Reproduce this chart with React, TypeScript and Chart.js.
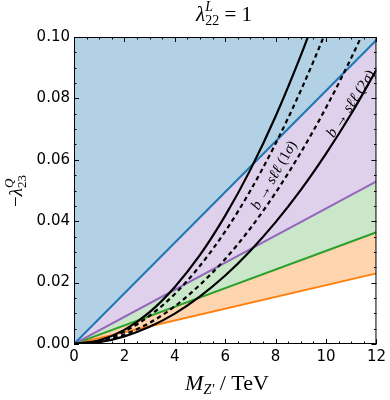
import React, { useEffect, useRef } from "react";
import { Chart, registerables } from "chart.js";

Chart.register(...registerables);

// ---- data ----
const massGrid = [0, 1, 2, 3, 4, 5, 6, 7, 8, 9, 10, 11, 12];
const lineMass = [0, 12];
const limitBlue = [0, 0.099];
const limitPurple = [0, 0.053];
const limitGreen = [0, 0.0364];
const limitOrange = [0, 0.023];
const bsll2SigmaUpper = [0, 0.0012, 0.0046, 0.0104, 0.0186, 0.029, 0.0418, 0.0568, 0.0742, 0.094, 0.116];
const bsll1SigmaUpper = [0, 0.001, 0.0041, 0.0092, 0.0163, 0.0255, 0.0367, 0.05, 0.0653, 0.0826, 0.102, 0.1234];
const bsll1SigmaLower = [0, 0.0008, 0.0031, 0.0069, 0.0123, 0.0193, 0.0277, 0.0377, 0.0493, 0.0624, 0.077, 0.0932, 0.1109];
const bsll2SigmaLower = [0, 0.0006, 0.0025, 0.0056, 0.0099, 0.0155, 0.0223, 0.0304, 0.0397, 0.0502, 0.062, 0.075, 0.0893];
const xTickValues = [0, 2, 4, 6, 8, 10, 12];
const yTickValues = [0, 0.02, 0.04, 0.06, 0.08, 0.1];

// annotation anchors (data coordinates)
const label1SigmaAnchor = { x: 7.93, y: 0.055, angle: -60 };
const label2SigmaAnchor = { x: 10.98, y: 0.0783, angle: -57 };

const SERIF = '"Liberation Serif", "DejaVu Serif", serif';
const SANS = '"DejaVu Sans", sans-serif';

const toPoints = (xs: number[], ys: number[]) => ys.map((y, i) => ({ x: xs[i], y }));

type Seg = { t: string; f: string; dy?: number; noAdv?: boolean };

function drawSegs(
  ctx: CanvasRenderingContext2D,
  segs: Seg[],
  cx: number,
  cy: number,
  angleDeg: number,
  baseShift = 0
) {
  ctx.save();
  ctx.translate(cx, cy);
  ctx.rotate((angleDeg * Math.PI) / 180);
  ctx.textAlign = "left";
  ctx.textBaseline = "alphabetic";
  ctx.fillStyle = "#000";
  let total = 0;
  for (const s of segs) {
    ctx.font = s.f;
    if (!s.noAdv) total += ctx.measureText(s.t).width;
  }
  let x = -total / 2;
  for (const s of segs) {
    ctx.font = s.f;
    ctx.fillText(s.t, x, (s.dy || 0) + baseShift);
    if (!s.noAdv) x += ctx.measureText(s.t).width;
  }
  ctx.restore();
}

const decorPlugin = {
  id: "decor",
  afterDatasetsDraw(chart: any) {
    const ctx: CanvasRenderingContext2D = chart.ctx;
    const xs = chart.scales.x;
    const ys = chart.scales.y;
    const lbl = (a: { x: number; y: number; angle: number }, sig: string) => {
      const px = xs.getPixelForValue(a.x);
      const py = ys.getPixelForValue(a.y);
      const it = `italic 15px ${SERIF}`;
      const rg = `15px ${SERIF}`;
      drawSegs(
        ctx,
        [
          { t: "b", f: it },
          { t: " \u2192 ", f: rg },
          { t: "s\u2113\u2113", f: it },
          { t: " (" + sig, f: rg },
          { t: "\u03c3", f: it },
          { t: ")", f: rg },
        ],
        px,
        py,
        a.angle,
        4.5
      );
    };
    lbl(label1SigmaAnchor, "1");
    lbl(label2SigmaAnchor, "2");
  },
  afterDraw(chart: any) {
    const ctx: CanvasRenderingContext2D = chart.ctx;
    const { left, right, top, bottom } = chart.chartArea;
    const xs = chart.scales.x;
    const ys = chart.scales.y;
    ctx.save();
    ctx.strokeStyle = "#000";
    ctx.lineWidth = 1;
    ctx.beginPath();
    for (let v = 0; v <= 12.0001; v += 0.5) {
      const px = Math.round(xs.getPixelForValue(v)) + 0.5;
      const len = Math.abs(v / 2 - Math.round(v / 2)) < 1e-6 ? 5 : 2.5;
      ctx.moveTo(px, bottom);
      ctx.lineTo(px, bottom - len);
      ctx.moveTo(px, top);
      ctx.lineTo(px, top + len);
    }
    for (let i = 0; i <= 20; i++) {
      const v = i * 0.005;
      const py = Math.round(ys.getPixelForValue(v)) + 0.5;
      const len = i % 4 === 0 ? 5 : 2.5;
      ctx.moveTo(left, py);
      ctx.lineTo(left + len, py);
      ctx.moveTo(right, py);
      ctx.lineTo(right - len, py);
    }
    ctx.stroke();
    ctx.strokeRect(left + 0.5, top + 0.5, right - left - 1, bottom - top - 1);
    ctx.restore();

    // title
    drawSegs(
      ctx,
      [
        { t: "\u03bb", f: `italic 21px ${SERIF}` },
        { t: "L", f: `italic 14px ${SERIF}`, dy: -10, noAdv: true },
        { t: "22", f: `14px ${SERIF}`, dy: 4 },
        { t: " = 1", f: `21px ${SERIF}` },
      ],
      224,
      21,
      0
    );
    // x axis title
    drawSegs(
      ctx,
      [
        { t: "M", f: `italic 22px ${SERIF}` },
        { t: "Z\u2032", f: `italic 14px ${SERIF}`, dy: 4 },
        { t: " / TeV", f: `22px ${SERIF}` },
      ],
      227,
      390,
      0
    );
    // y axis title
    drawSegs(
      ctx,
      [
        { t: "\u2212", f: `19px ${SERIF}` },
        { t: "\u03bb", f: `italic 19px ${SERIF}` },
        { t: "Q", f: `italic 13px ${SERIF}`, dy: -9, noAdv: true },
        { t: "23", f: `13px ${SERIF}`, dy: 4 },
      ],
      22,
      191,
      -90
    );
  },
};

export default function App() {
  const ref = useRef<HTMLCanvasElement | null>(null);
  useEffect(() => {
    if (!ref.current) return;
    const blackCurve = (data: number[], dashed: boolean) => ({
      data: toPoints(massGrid, data),
      borderColor: "#000",
      borderWidth: 2.2,
      borderDash: dashed ? [4.5, 3.5] : [],
      fill: false,
      pointRadius: 0,
      cubicInterpolationMode: "monotone",
      order: 0,
    });
    const limitLine = (data: number[], color: string, fillColor: string, fill: any) => ({
      data: toPoints(lineMass, data),
      borderColor: color,
      borderWidth: 2,
      backgroundColor: fillColor,
      fill,
      pointRadius: 0,
      order: 1,
    });
    const chart = new Chart(ref.current, {
      type: "line",
      data: {
        datasets: [
          limitLine(limitBlue, "#1f77b4", "rgba(31,119,180,0.34)", "end"),
          limitLine(limitPurple, "#9467bd", "rgba(148,103,189,0.3)", "-1"),
          limitLine(limitGreen, "#2ca02c", "rgba(44,160,44,0.25)", "-1"),
          limitLine(limitOrange, "#ff7f0e", "rgba(255,127,14,0.33)", "-1"),
          blackCurve(bsll2SigmaUpper, false),
          blackCurve(bsll1SigmaUpper, true),
          blackCurve(bsll1SigmaLower, true),
          blackCurve(bsll2SigmaLower, false),
        ] as any,
      },
      options: {
        animation: false,
        responsive: false,
        devicePixelRatio: 1,
        layout: { padding: { top: 37, right: 10, left: 0, bottom: 0 } },
        plugins: {
          legend: { display: false },
          tooltip: { enabled: false },
          filler: { propagate: false, drawTime: "beforeDatasetsDraw" } as any,
        },
        events: [],
        scales: {
          x: {
            type: "linear",
            min: 0,
            max: 12,
            grid: { display: false, drawTicks: false },
            border: { display: false },
            afterBuildTicks: (s: any) => {
              s.ticks = xTickValues.map((v) => ({ value: v }));
            },
            afterFit: (s: any) => {
              s.height = 56;
            },
            ticks: {
              autoSkip: false,
              maxRotation: 0,
              padding: 4,
              color: "#000",
              font: { family: SANS, size: 15 },
              callback: (v: any) => String(v),
            },
          },
          y: {
            type: "linear",
            min: 0,
            max: 0.1,
            grid: { display: false, drawTicks: false },
            border: { display: false },
            afterBuildTicks: (s: any) => {
              s.ticks = yTickValues.map((v) => ({ value: v }));
            },
            afterFit: (s: any) => {
              s.width = 74;
            },
            ticks: {
              autoSkip: false,
              padding: 4,
              color: "#000",
              font: { family: SANS, size: 15 },
              callback: (v: any) => Number(v).toFixed(2),
            },
          },
        },
      },
      plugins: [decorPlugin],
    });
    return () => chart.destroy();
  }, []);
  return (
    <div style={{ position: "absolute", left: 0, top: 0, width: 390, height: 400, background: "#fff" }}>
      <canvas ref={ref} width={390} height={400} style={{ display: "block", width: 390, height: 400 }} />
    </div>
  );
}
